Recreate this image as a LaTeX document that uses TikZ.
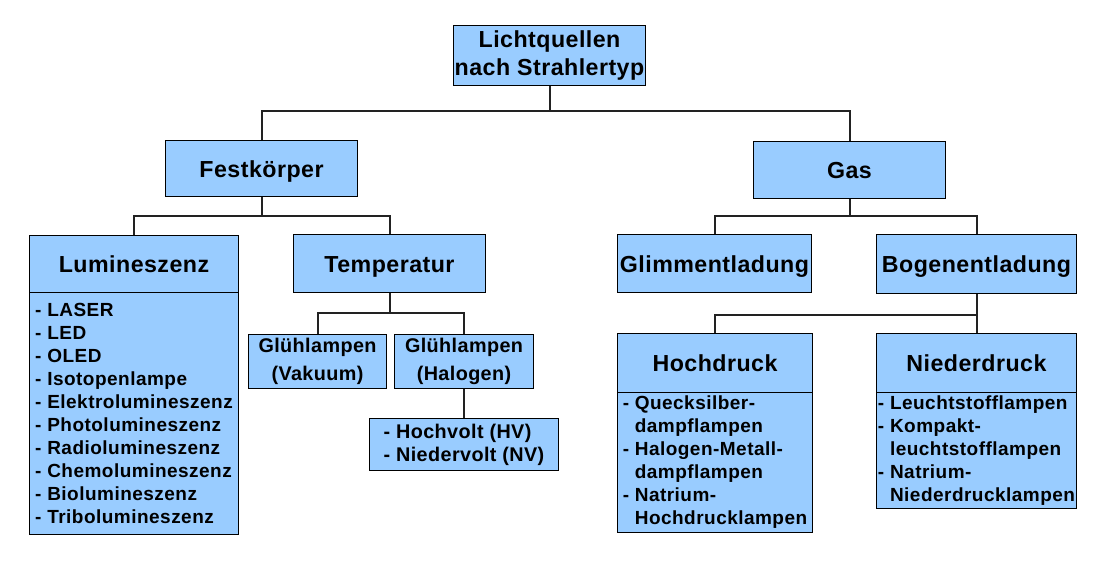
\documentclass[tikz,border=0pt]{standalone}
\usepackage{fontspec}
\setmainfont{Liberation Sans}
\newfontfamily\hdfont[LetterSpace=2]{Liberation Sans}
\newfontfamily\lsfont[LetterSpace=2.5]{Liberation Sans}
\definecolor{boxblue}{HTML}{99CCFF}
\definecolor{linegray}{HTML}{222222}
\begin{document}
\begin{tikzpicture}[x=1pt,y=-1pt,
  box/.style={draw=black, fill=boxblue, line width=1pt, inner sep=0pt, anchor=north west, align=center},
  hd/.style={font=\hdfont\bfseries\fontsize{23.2}{28}\selectfont},
  hdone/.style={hd, text depth=0pt, text height=17pt},
  md/.style={font=\hdfont\bfseries\fontsize{19.8}{28}\selectfont},
  ls/.style={font=\lsfont\bfseries\fontsize{19}{23}\selectfont, align=left},
  hvs/.style={font=\hdfont\bfseries\fontsize{19.8}{23}\selectfont, align=left},
  conn/.style={draw=linegray, line width=2pt}]
\useasboundingbox[fill=white] (0,0) rectangle (1106,568);

% level 0
\node[box,hd,minimum width=192pt,minimum height=60pt] (root) at (453,25) {Lichtquellen\\nach Strahlertyp};
% level 1
\node[box,hdone,minimum width=192pt,minimum height=56pt] (fest) at (165,140) {Festkörper};
\node[box,hdone,minimum width=192pt,minimum height=57pt] (gas) at (753,141) {Gas};
% level 2
\node[box,hdone,minimum width=209pt,minimum height=57pt] (lum) at (29,235) {Lumineszenz};
\node[box,ls,minimum width=209pt,minimum height=242pt] (lumlist) at (29,292) {- LASER\\- LED\\- OLED\\- Isotopenlampe\\- Elektrolumineszenz\\- Photolumineszenz\\- Radiolumineszenz\\- Chemolumineszenz\\- Biolumineszenz\\- Tribolumineszenz};
\node[box,hdone,minimum width=192pt,minimum height=58pt] (temp) at (293,234) {Temperatur};
\node[box,hdone,minimum width=194pt,minimum height=58pt] (glimm) at (617,234) {Glimmentladung};
\node[box,hdone,minimum width=200pt,minimum height=59pt] (bogen) at (876,234) {Bogenentladung};
% level 3
\node[box,md,minimum width=138pt,minimum height=54pt] (vak) at (248,334) {Glühlampen\\(Vakuum)};
\node[box,md,minimum width=139pt,minimum height=54pt] (hal) at (394,334) {Glühlampen\\(Halogen)};
\node[box,hvs,minimum width=189pt,minimum height=52pt] (hv) at (369,418) {- Hochvolt (HV)\\- Niedervolt (NV)};
\node[box,hdone,minimum width=195pt,minimum height=59pt] (hoch) at (617,333) {Hochdruck};
\node[box,ls,minimum width=195pt,minimum height=140pt] (hochlist) at (617,392) {- Quecksilber-\\\phantom{- }dampflampen\\- Halogen-Metall-\\\phantom{- }dampflampen\\- Natrium-\\\phantom{- }Hochdrucklampen};
\node[box,hdone,minimum width=200pt,minimum height=59pt] (nieder) at (876,333) {Niederdruck};
\node[box,ls,minimum width=200pt,minimum height=116pt] (niederlist) at (876,392) {- Leuchtstofflampen\\- Kompakt-\\\phantom{- }leuchtstofflampen\\- Natrium-\\\phantom{- }Niederdrucklampen};

% connectors
\coordinate (j0) at (root.south |- 0,111);
\draw[conn] (root.south) -- (j0) -| (fest.north);
\draw[conn] (j0) -| (gas.north);
\coordinate (j1) at (fest.south |- 0,216);
\draw[conn] (fest.south) -- (j1) -| (lum.north);
\draw[conn] (j1) -| (temp.north);
\coordinate (j2) at (gas.south |- 0,216);
\draw[conn] (gas.south) -- (j2) -| (glimm.north);
\draw[conn] (j2) -| (bogen.north);
\coordinate (j3) at (temp.south |- 0,313);
\draw[conn] (temp.south) -- (j3) -| (vak.north);
\draw[conn] (j3) -| (hal.north);
\draw[conn] (hal.south) -- (hv.north);
\coordinate (j4) at (bogen.south |- 0,315);
\draw[conn] (bogen.south) -- (j4) -| (hoch.north);
\draw[conn] (j4) -- (nieder.north);
\end{tikzpicture}
\end{document}
